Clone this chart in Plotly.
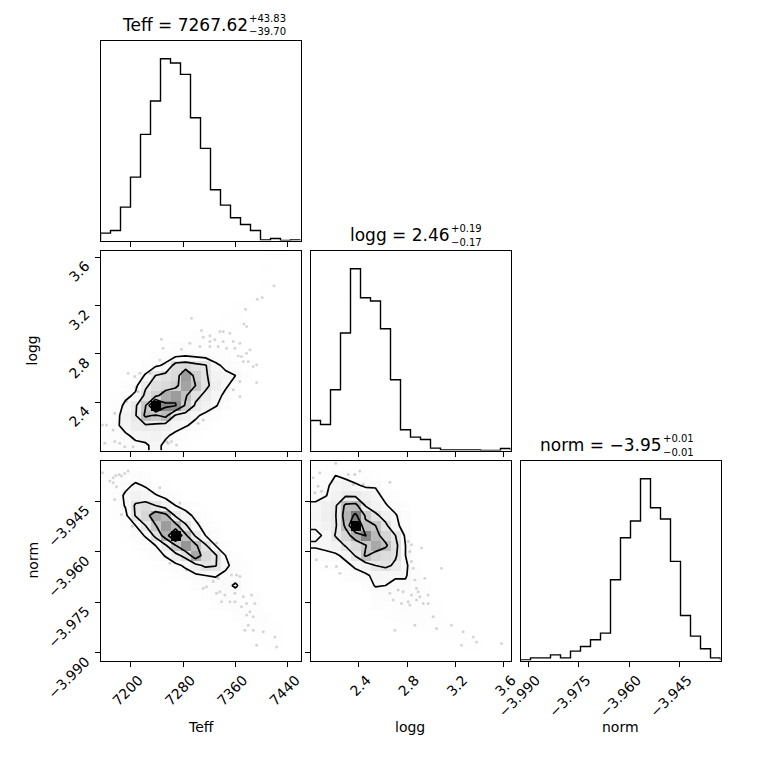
import numpy as np
import plotly.graph_objects as go

# axis ranges (20 bins each, as in the corner plot)
teff_range = [7153.7, 7459.4]
logg_range = [2.0, 3.6555]
norm_range = [-3.99226, -3.93291]

teff_ticks = [7200, 7280, 7360, 7440]
teff_ticktext = ["7200", "7280", "7360", "7440"]
logg_ticks = [2.4, 2.8, 3.2, 3.6]
logg_ticktext = ["2.4", "2.8", "3.2", "3.6"]
norm_ticks = [-3.990, -3.975, -3.960, -3.945]
norm_ticktext = ["\u22123.990", "\u22123.975", "\u22123.960", "\u22123.945"]

# 1d histograms
teff_hist = [22, 30, 100, 190, 318, 418, 545, 532, 498, 368, 276, 152, 106, 68, 48, 30, 2, 6, 0, 2]
logg_hist = [90, 78, 182, 352, 545, 458, 448, 365, 212, 62, 40, 33, 7, 2, 2, 4, 2, 0, 0, 6]
norm_hist = [2, 8, 8, 17, 8, 28, 42, 62, 82, 242, 368, 418, 545, 458, 424, 297, 135, 73, 35, 8]

titles = [("Teff = 7267.62", "+43.83", "\u221239.70"),
          ("logg = 2.46", "+0.19", "\u22120.17"),
          ("norm = \u22123.95", "+0.01", "\u22120.01")]

# 2d histograms, percent of peak, rows listed top -> bottom
tl_density = [
    [0, 0, 0, 0, 0, 0, 0, 0, 0, 0, 0, 0, 0, 0, 0, 0, 0, 3, 0, 0],
    [0, 0, 0, 0, 0, 0, 0, 0, 0, 0, 0, 0, 0, 0, 0, 0, 3, 0, 0, 0],
    [0, 0, 0, 0, 0, 0, 0, 0, 0, 0, 0, 0, 0, 0, 0, 0, 0, 0, 0, 0],
    [0, 0, 0, 0, 0, 0, 0, 0, 0, 0, 0, 0, 0, 0, 0, 0, 3, 0, 0, 0],
    [0, 0, 0, 0, 0, 0, 0, 0, 0, 0, 0, 0, 0, 0, 0, 3, 0, 0, 0, 0],
    [0, 0, 0, 0, 0, 0, 0, 0, 0, 0, 0, 0, 0, 4, 4, 0, 0, 0, 0, 0],
    [0, 0, 0, 0, 0, 0, 0, 0, 0, 0, 0, 0, 4, 4, 0, 0, 0, 0, 0, 0],
    [0, 0, 0, 0, 0, 0, 0, 0, 0, 0, 5, 5, 0, 4, 0, 0, 0, 0, 0, 0],
    [0, 0, 0, 0, 0, 0, 0, 0, 0, 6, 6, 6, 5, 0, 0, 0, 0, 0, 0, 0],
    [0, 0, 0, 0, 0, 0, 0, 6, 8, 8, 8, 6, 5, 0, 0, 0, 0, 0, 0, 0],
    [0, 0, 0, 0, 0, 8, 10, 12, 14, 12, 10, 8, 6, 0, 0, 0, 0, 0, 0, 0],
    [0, 0, 0, 0, 10, 13, 17, 36, 38, 34, 31, 18, 12, 8, 0, 0, 0, 0, 0, 0],
    [0, 0, 0, 9, 16, 30, 34, 38, 62, 42, 32, 22, 18, 15, 8, 0, 0, 0, 0, 0],
    [0, 0, 8, 12, 28, 35, 38, 42, 60, 47, 33, 25, 17, 10, 0, 0, 0, 0, 0, 0],
    [0, 5, 12, 17, 33, 42, 56, 62, 49, 34, 27, 20, 12, 8, 0, 0, 0, 0, 0, 0],
    [0, 8, 18, 28, 46, 100, 68, 66, 45, 28, 22, 16, 10, 0, 0, 0, 0, 0, 0, 0],
    [0, 10, 22, 29, 50, 45, 52, 28, 24, 17, 12, 8, 0, 0, 0, 0, 0, 0, 0, 0],
    [5, 12, 20, 26, 28, 27, 24, 20, 16, 12, 7, 0, 0, 0, 0, 0, 0, 0, 0, 0],
    [8, 10, 13, 18, 20, 22, 17, 12, 8, 5, 0, 0, 0, 0, 0, 0, 0, 0, 0, 0],
    [8, 9, 11, 12, 13, 19, 12, 8, 5, 0, 0, 0, 0, 0, 0, 0, 0, 0, 0, 0],
]
tn_density = [
    [4, 4, 3, 0, 0, 0, 0, 0, 0, 0, 0, 0, 0, 0, 0, 0, 0, 0, 0, 0],
    [6, 6, 8, 10, 6, 0, 0, 0, 0, 0, 0, 0, 0, 0, 0, 0, 0, 0, 0, 0],
    [0, 8, 12, 17, 14, 8, 5, 0, 0, 0, 0, 0, 0, 0, 0, 0, 0, 0, 0, 0],
    [0, 9, 17, 22, 20, 16, 12, 8, 0, 0, 0, 0, 0, 0, 0, 0, 0, 0, 0, 0],
    [0, 8, 16, 32, 36, 30, 22, 15, 10, 6, 0, 0, 0, 0, 0, 0, 0, 0, 0, 0],
    [0, 6, 12, 31, 40, 58, 52, 28, 20, 12, 6, 0, 0, 0, 0, 0, 0, 0, 0, 0],
    [0, 0, 8, 15, 30, 46, 62, 52, 32, 18, 10, 6, 0, 0, 0, 0, 0, 0, 0, 0],
    [0, 0, 5, 10, 16, 34, 55, 100, 50, 28, 15, 8, 0, 0, 0, 0, 0, 0, 0, 0],
    [0, 0, 0, 6, 10, 15, 28, 46, 64, 50, 32, 15, 8, 0, 0, 0, 0, 0, 0, 0],
    [0, 0, 0, 0, 6, 9, 16, 25, 35, 58, 38, 32, 15, 8, 0, 0, 0, 0, 0, 0],
    [0, 0, 0, 0, 0, 5, 8, 12, 17, 25, 33, 31, 18, 10, 6, 0, 0, 0, 0, 0],
    [0, 0, 0, 0, 0, 0, 5, 7, 10, 13, 15, 16, 12, 9, 6, 0, 0, 0, 0, 0],
    [0, 0, 0, 0, 0, 0, 0, 0, 0, 6, 9, 10, 11, 17, 8, 0, 0, 0, 0, 0],
    [0, 0, 0, 0, 0, 0, 0, 0, 0, 0, 7, 9, 10, 9, 8, 6, 0, 0, 0, 0],
    [0, 0, 0, 0, 0, 0, 0, 0, 0, 0, 0, 6, 8, 9, 8, 6, 0, 0, 0, 0],
    [0, 0, 0, 0, 0, 0, 0, 0, 0, 0, 0, 0, 0, 7, 8, 8, 6, 0, 0, 0],
    [0, 0, 0, 0, 0, 0, 0, 0, 0, 0, 0, 0, 0, 0, 6, 7, 7, 5, 0, 0],
    [0, 0, 0, 0, 0, 0, 0, 0, 0, 0, 0, 0, 0, 0, 0, 5, 5, 5, 0, 0],
    [0, 0, 0, 0, 0, 0, 0, 0, 0, 0, 0, 0, 0, 0, 0, 0, 4, 4, 0, 0],
    [0, 0, 0, 0, 0, 0, 0, 0, 0, 0, 0, 0, 0, 0, 0, 0, 0, 0, 0, 0],
]
ln_density = [
    [0, 4, 5, 4, 0, 0, 0, 0, 0, 0, 0, 0, 0, 0, 0, 0, 0, 0, 0, 0],
    [5, 8, 15, 11, 8, 6, 5, 0, 0, 0, 0, 0, 0, 0, 0, 0, 0, 0, 0, 0],
    [7, 12, 20, 22, 17, 13, 14, 8, 0, 0, 0, 0, 0, 0, 0, 0, 0, 0, 0, 0],
    [10, 14, 22, 28, 27, 24, 18, 12, 7, 0, 0, 0, 0, 0, 0, 0, 0, 0, 0, 0],
    [18, 24, 28, 50, 52, 29, 22, 16, 11, 6, 0, 0, 0, 0, 0, 0, 0, 0, 0, 0],
    [20, 25, 29, 54, 72, 45, 33, 24, 16, 9, 0, 0, 0, 0, 0, 0, 0, 0, 0, 0],
    [17, 22, 28, 50, 100, 50, 47, 33, 18, 10, 0, 0, 0, 0, 0, 0, 0, 0, 0, 0],
    [12, 17, 31, 40, 55, 69, 52, 40, 30, 13, 0, 0, 0, 0, 0, 0, 0, 0, 0, 0],
    [17, 19, 22, 31, 38, 46, 58, 50, 34, 15, 0, 0, 0, 0, 0, 0, 0, 0, 0, 0],
    [9, 11, 13, 18, 31, 49, 40, 36, 32, 15, 0, 0, 0, 0, 0, 0, 0, 0, 0, 0],
    [0, 7, 9, 12, 17, 22, 30, 34, 27, 17, 8, 0, 0, 0, 0, 0, 0, 0, 0, 0],
    [0, 0, 0, 8, 11, 13, 18, 16, 17, 16, 9, 0, 0, 0, 0, 0, 0, 0, 0, 0],
    [0, 0, 0, 0, 0, 9, 16, 15, 11, 13, 8, 6, 0, 0, 0, 0, 0, 0, 0, 0],
    [0, 0, 0, 0, 0, 0, 9, 10, 10, 10, 9, 7, 0, 0, 0, 0, 0, 0, 0, 0],
    [0, 0, 0, 0, 0, 0, 6, 8, 8, 9, 8, 7, 5, 0, 0, 0, 0, 0, 0, 0],
    [0, 0, 0, 0, 0, 0, 0, 5, 6, 7, 6, 7, 6, 0, 0, 0, 0, 0, 0, 0],
    [0, 0, 0, 0, 0, 0, 0, 0, 0, 5, 6, 5, 6, 5, 4, 0, 0, 0, 0, 0],
    [0, 0, 0, 0, 0, 0, 0, 0, 0, 0, 0, 0, 0, 5, 5, 4, 0, 0, 0, 0],
    [0, 0, 0, 0, 0, 0, 0, 0, 0, 0, 0, 0, 0, 0, 0, 4, 4, 0, 0, 0],
    [0, 0, 0, 0, 0, 0, 0, 0, 0, 0, 0, 0, 0, 0, 0, 0, 0, 0, 0, 0],
]

# contour levels (percent of peak) for 2.0, 1.5, 1.0, 0.5 sigma
tl_levels = [15, 30, 47, 65]
tn_levels = [15, 30, 47, 68]
ln_levels = [15, 30, 47, 68]

# samples lying outside the outer contour
tl_pts_teff = [7418.8, 7400.9, 7393.3, 7375.4, 7372.9, 7377.0, 7292.8, 7308.1, 7310.7, 7320.9,
               7328.5, 7320.9, 7336.2, 7341.3, 7351.5, 7246.9, 7249.5, 7277.5, 7290.3, 7305.6,
               7320.9, 7333.6, 7341.3, 7346.4, 7356.6, 7359.1, 7366.8, 7364.2, 7369.3, 7377.0,
               7382.1, 7379.5, 7387.1, 7392.3, 7392.3, 7366.8, 7356.6, 7371.9, 7244.4, 7229.1,
               7213.8, 7206.1, 7196.0, 7207.7, 7211.2, 7193.4, 7175.5, 7173.0, 7162.8, 7156.7,
               7160.2, 7175.5, 7183.2, 7190.8, 7203.6, 7254.6, 7257.1, 7262.2, 7269.9, 7303.0,
               7310.7, 7366.8]
tl_pts_logg = [3.363, 3.266, 3.253, 3.170, 3.048, 3.026, 3.095, 2.993, 2.938, 2.949,
               2.916, 2.902, 2.985, 2.985, 2.971, 2.921, 2.847, 2.839, 2.888, 2.861,
               2.861, 2.861, 2.902, 2.847, 2.902, 2.847, 2.888, 2.783, 2.778, 2.805,
               2.833, 2.736, 2.695, 2.709, 2.562, 2.571, 2.502, 2.736, 2.750, 2.640,
               2.640, 2.612, 2.640, 2.524, 2.488, 2.405, 2.308, 2.170, 2.212, 2.212,
               2.060, 2.074, 2.060, 2.032, 2.032, 2.074, 2.060, 2.074, 2.046, 2.226,
               2.253, 2.446]

tn_pts_teff = [7156.7, 7173.0, 7177.1, 7182.2, 7185.7, 7190.8, 7195.9, 7167.9, 7173.0, 7178.1,
               7175.5, 7185.7, 7202.6, 7244.4, 7275.0, 7303.0, 7331.1, 7259.7, 7285.2, 7310.7,
               7315.8, 7326.0, 7333.6, 7331.1, 7336.2, 7343.8, 7354.0, 7361.7, 7366.8, 7359.1,
               7371.9, 7384.6, 7377.0, 7389.7, 7369.3, 7359.1, 7338.7, 7351.5, 7382.1, 7377.0,
               7387.2, 7379.5, 7374.4, 7387.2, 7402.5, 7392.3, 7420.3, 7422.9]
tn_pts_norm = [-3.93655, -3.93804, -3.93734, -3.93704, -3.93754, -3.93674, -3.93605, -3.93903,
               -3.93953, -3.94072, -3.94450, -3.94897, -3.95245, -3.94102, -3.94549, -3.95146,
               -3.95742, -3.96338, -3.96537, -3.97084, -3.97034, -3.96885, -3.96786, -3.97233,
               -3.97183, -3.97283, -3.96686, -3.96686, -3.96736, -3.97233, -3.97332, -3.97283,
               -3.97531, -3.97531, -3.97630, -3.97481, -3.97481, -3.97481, -3.97780, -3.97879,
               -3.97929, -3.98177, -3.98326, -3.98326, -3.98376, -3.98774, -3.98525, -3.98823]

ln_pts_logg = [2.209, 2.077, 2.022, 2.063, 2.036, 2.091, 2.312, 2.367, 2.408, 2.353,
               2.436, 2.657, 2.049, 2.132, 2.215, 2.243, 2.808, 2.836, 2.822, 2.919,
               2.836, 2.850, 3.084, 2.864, 2.946, 2.877, 2.891, 2.905, 2.974, 2.836,
               2.808, 2.767, 2.726, 2.657, 2.684, 2.753, 2.822, 2.877, 2.933, 2.974,
               3.015, 2.864, 3.043, 3.167, 3.264, 2.698, 3.347, 3.250, 3.374, 3.581]
ln_pts_norm = [-3.93376, -3.93655, -3.93804, -3.94052, -3.94251, -3.94201, -3.93704, -3.93704,
               -3.93605, -3.94003, -3.94003, -3.93933, -3.96239, -3.96438, -3.96438, -3.96637,
               -3.95692, -3.95792, -3.95990, -3.95891, -3.96289, -3.96488, -3.96488, -3.96836,
               -3.96786, -3.97084, -3.97183, -3.97332, -3.97283, -3.97283, -3.97481, -3.97183,
               -3.97134, -3.97233, -3.97432, -3.97531, -3.97581, -3.97432, -3.97531, -3.97531,
               -3.97929, -3.98177, -3.98277, -3.98177, -3.98376, -3.98326, -3.98525, -3.98774,
               -3.98674, -3.98724]

W = H = 760
PAGE_PAD = 8  # the page body margin that shifts the figure in the window
cols = [(100.5, 300.5), (310.5, 510.5), (520.5, 720.5)]
rows = [(40.5, 240.5), (250.5, 450.5), (460.5, 660.5)]
FONT = "DejaVu Sans"


def px(x):
    return (x - PAGE_PAD) / W


def py(y):
    return 1 - (y - PAGE_PAD) / H


def centers(rng, n=20):
    e = np.linspace(rng[0], rng[1], n + 1)
    return (e[:-1] + e[1:]) / 2


# white -> black with the 1 - f^2 look of corner's transparent density map
grey_scale = []
for f in np.linspace(0, 1, 11):
    g = int(round(255 * (1 - f ** 2)))
    grey_scale.append([float(f), f"rgb({g},{g},{g})"])

fig = go.Figure()


def add_hist(counts, rng, n):
    edges = np.linspace(rng[0], rng[1], len(counts) + 1)
    xs, ys = [edges[0]], [0]
    for i, c in enumerate(counts):
        xs += [edges[i], edges[i + 1]]
        ys += [c, c]
    xs.append(edges[-1])
    ys.append(0)
    fig.add_trace(go.Scatter(x=xs, y=ys, mode="lines", line=dict(color="black", width=1.4),
                             xaxis=f"x{n}", yaxis=f"y{n}", hoverinfo="skip"))


def add_density(dens, xr, yr, levels, ptx, pty, n):
    z = np.array(dens[::-1], dtype=float)
    xc, yc = centers(xr), centers(yr)
    fig.add_trace(go.Heatmap(x=xc, y=yc, z=z, zmin=0, zmax=100, colorscale=grey_scale,
                             showscale=False, hoverinfo="skip", xaxis=f"x{n}", yaxis=f"y{n}"))
    fig.add_trace(go.Scatter(x=ptx, y=pty, mode="markers",
                             marker=dict(size=3, color="rgba(0,0,0,0.16)"),
                             xaxis=f"x{n}", yaxis=f"y{n}", hoverinfo="skip"))
    # pad to the panel edges so open contours reach the frame
    xp = [xr[0]] + list(xc) + [xr[1]]
    yp = [yr[0]] + list(yc) + [yr[1]]
    zp = np.pad(z, 1, mode="edge")
    for lev in levels:
        fig.add_trace(go.Contour(x=xp, y=yp, z=zp, autocontour=False,
                                 contours=dict(start=lev, end=lev, size=1, coloring="none"),
                                 line=dict(color="black", width=1.7, smoothing=0),
                                 showscale=False, hoverinfo="skip",
                                 xaxis=f"x{n}", yaxis=f"y{n}"))


# panels: 1 Teff hist, 2 Teff-logg, 3 logg hist, 4 Teff-norm, 5 logg-norm, 6 norm hist
add_hist(teff_hist, teff_range, 1)
add_density(tl_density, teff_range, logg_range, tl_levels, tl_pts_teff, tl_pts_logg, 2)
add_hist(logg_hist, logg_range, 3)
add_density(tn_density, teff_range, norm_range, tn_levels, tn_pts_teff, tn_pts_norm, 4)
add_density(ln_density, logg_range, norm_range, ln_levels, ln_pts_logg, ln_pts_norm, 5)
add_hist(norm_hist, norm_range, 6)


def axis(n, col, row, rng, tickvals, ticktext, labels, is_x):
    c0, c1 = cols[col]
    r0, r1 = rows[row]
    dom = [px(c0), px(c1)] if is_x else [py(r1), py(r0)]
    a = dict(domain=dom, range=rng, anchor=(f"y{n}" if is_x else f"x{n}"),
             showgrid=False, zeroline=False, showline=True, mirror=True,
             linecolor="black", linewidth=1, fixedrange=True, automargin=False)
    if tickvals:
        a.update(tickvals=tickvals, ticktext=ticktext, ticks="outside", ticklen=5,
                 tickwidth=1, tickcolor="black", showticklabels=labels, tickangle=-45,
                 tickfont=dict(family=FONT, size=14, color="black"))
        # matplotlib centres the rotated labels on their ticks
        if is_x:
            a.update(ticklabelshift=8)
        else:
            a.update(ticklabelshift=7, ticklabelstandoff=6)
    else:
        a.update(showticklabels=False, ticks="")
    return a


layout_axes = {}
spec = [
    # n, col, row, x (range, ticks, text, labels), y (range, ticks, text, labels)
    (1, 0, 0, (teff_range, teff_ticks, teff_ticktext, False), ([0, 1.1 * max(teff_hist)], None, None, False)),
    (2, 0, 1, (teff_range, teff_ticks, teff_ticktext, False), (logg_range, logg_ticks, logg_ticktext, True)),
    (3, 1, 1, (logg_range, logg_ticks, logg_ticktext, False), ([0, 1.1 * max(logg_hist)], None, None, False)),
    (4, 0, 2, (teff_range, teff_ticks, teff_ticktext, True), (norm_range, norm_ticks, norm_ticktext, True)),
    (5, 1, 2, (logg_range, logg_ticks, logg_ticktext, True), (norm_range, norm_ticks, norm_ticktext, False)),
    (6, 2, 2, (norm_range, norm_ticks, norm_ticktext, True), ([0, 1.1 * max(norm_hist)], None, None, False)),
]
for n, col, row, xs, ys in spec:
    key = "" if n == 1 else str(n)
    layout_axes["xaxis" + key] = axis(n, col, row, xs[0], xs[1], xs[2], xs[3], True)
    layout_axes["yaxis" + key] = axis(n, col, row, ys[0], ys[1], ys[2], ys[3], False)

annotations = []
# titles with stacked upper / lower errors
title_split = [249, 451, 663]
for i, (main, up, lo) in enumerate(titles):
    base = rows[i][0] - 10
    annotations.append(dict(x=px(title_split[i]), y=py(base - 5.5), xref="paper", yref="paper",
                            text=main, showarrow=False, xanchor="right", yanchor="middle",
                            borderpad=0, font=dict(family=FONT, size=17, color="black")))
    annotations.append(dict(x=px(title_split[i] - 1), y=py(base - 6), xref="paper", yref="paper",
                            text=up, showarrow=False, xanchor="left", yanchor="bottom",
                            borderpad=0, font=dict(family=FONT, size=10, color="black")))
    annotations.append(dict(x=px(title_split[i] - 1), y=py(base - 5), xref="paper", yref="paper",
                            text=lo, showarrow=False, xanchor="left", yanchor="top",
                            borderpad=0, font=dict(family=FONT, size=10, color="black")))

# axis labels
for name, col in [("Teff", 0), ("logg", 1), ("norm", 2)]:
    annotations.append(dict(x=px((cols[col][0] + cols[col][1]) / 2), y=py(727), xref="paper", yref="paper",
                            text=name, showarrow=False, xanchor="center", yanchor="middle",
                            font=dict(family=FONT, size=14, color="black")))
for name, row in [("logg", 1), ("norm", 2)]:
    annotations.append(dict(x=px(32), y=py((rows[row][0] + rows[row][1]) / 2), xref="paper", yref="paper",
                            text=name, showarrow=False, textangle=-90, xanchor="center", yanchor="middle",
                            font=dict(family=FONT, size=14, color="black")))

fig.update_layout(width=W, height=H, margin=dict(l=0, r=0, t=0, b=0, autoexpand=False),
                  paper_bgcolor="white", plot_bgcolor="white", showlegend=False,
                  annotations=annotations, **layout_axes)

fig.write_html("out.html")
